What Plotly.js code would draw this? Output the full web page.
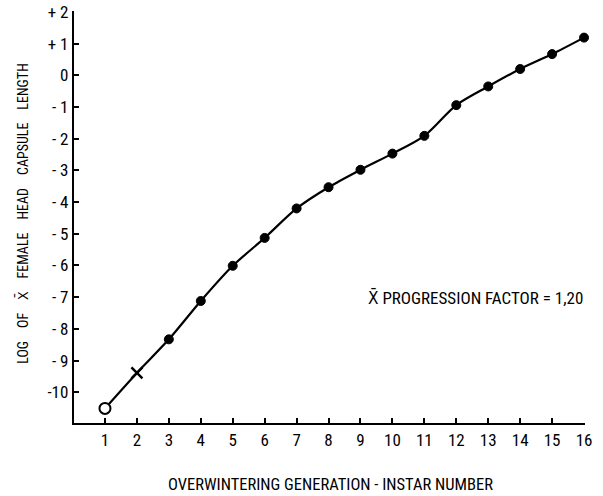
<!DOCTYPE html>
<html>
<head>
<meta charset="utf-8">
<script src="https://cdn.plot.ly/plotly-3.0.1.min.js"></script>
<style>html,body{margin:0;padding:0;background:#fff;}#chart{width:603px;height:496px;}</style>
</head>
<body>
<div id="chart"></div>
<script>
const instars = [1,2,3,4,5,6,7,8,9,10,11,12,13,14,15,16];
const logLength = [-10.51,-9.39,-8.33,-7.12,-6.01,-5.13,-4.20,-3.53,-2.98,-2.47,-1.91,-0.94,-0.35,0.20,0.67,1.19];
const markerSymbols = ['circle','x-thin','circle','circle','circle','circle','circle','circle','circle','circle','circle','circle','circle','circle','circle','circle'];
const markerFill = ['white','black','black','black','black','black','black','black','black','black','black','black','black','black','black','black'];
const markerSizes = [11,11,9,9,9,9,9,9,9,9,9,9,9,9,9,9];
const markerLineWidths = [2,2.5,1,1,1,1,1,1,1,1,1,1,1,1,1,1];
const yTickVals = [2,1,0,-1,-2,-3,-4,-5,-6,-7,-8,-9,-10];
const yTickText = ['+ 2','+ 1','0','- 1','- 2','- 3','- 4','- 5','- 6','- 7','- 8','- 9','-10'];
const xTickVals = instars;
const xTickText = instars.map(String);
const gap = '\u00A0\u00A0\u00A0\u00A0';
const yTitle = ['LOG','OF','X\u0304','FEMALE','HEAD','CAPSULE','LENGTH'].join(gap);
const xTitle = 'OVERWINTERING GENERATION - INSTAR NUMBER';
const note = 'X\u0304 PROGRESSION FACTOR = 1,20';

const font = 'Roboto Condensed, DejaVu Sans Condensed, sans-serif';

Plotly.newPlot('chart', [{
  x: instars,
  y: logLength,
  type: 'scatter',
  mode: 'lines+markers',
  line: {color: 'black', width: 2.2, shape: 'spline', smoothing: 0.8},
  marker: {symbol: markerSymbols, color: markerFill, size: markerSizes, opacity: 1,
           line: {color: 'black', width: markerLineWidths}},
  cliponaxis: false,
  hoverinfo: 'skip'
}], {
  width: 603, height: 496,
  margin: {l: 74, r: 18, t: 11, b: 73},
  paper_bgcolor: 'white', plot_bgcolor: 'white',
  showlegend: false,
  font: {family: font, color: 'black', size: 14},
  xaxis: {
    range: [0.03, 16.03],
    tickvals: xTickVals, ticktext: xTickText,
    ticks: 'inside', ticklen: 5, tickwidth: 2, tickcolor: 'black',
    showline: true, linecolor: 'black', linewidth: 2.2,
    showgrid: false, zeroline: false,
    tickfont: {family: font, size: 17}
  },
  yaxis: {
    range: [-10.97, 2.03],
    tickvals: yTickVals, ticktext: yTickText,
    ticks: 'inside', ticklen: 5, tickwidth: 2, tickcolor: 'black',
    showline: true, linecolor: 'black', linewidth: 2.2,
    showgrid: false, zeroline: false,
    tickfont: {family: font, size: 17}
  },
  annotations: [{
    xref: 'paper', yref: 'paper', x: 1, y: 0.3046,
    xanchor: 'right', yanchor: 'middle', showarrow: false,
    text: note, font: {family: font, size: 17, color: 'black'}
  }, {
    xref: 'paper', yref: 'paper', x: 0.501, y: -0.150,
    xanchor: 'center', yanchor: 'middle', showarrow: false,
    text: xTitle, font: {family: font, size: 16.5, color: 'black'}
  }, {
    xref: 'paper', yref: 'paper', x: -0.1000, y: 0.510,
    xanchor: 'center', yanchor: 'middle', showarrow: false, textangle: -90,
    text: yTitle, font: {family: font, size: 14, color: 'black'}
  }]
}, {displayModeBar: false, staticPlot: true});
</script>
</body>
</html>
